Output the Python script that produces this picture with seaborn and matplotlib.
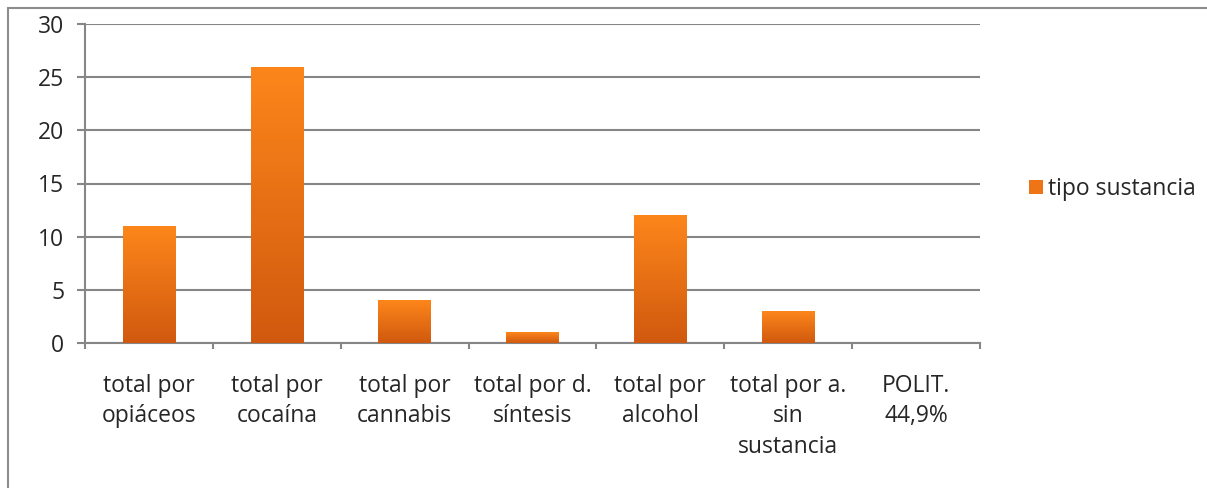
import matplotlib.pyplot as plt
import seaborn as sns
import numpy as np
import pandas as pd
from matplotlib.colors import LinearSegmentedColormap
from matplotlib.patches import Patch, Rectangle

categories = [
    'total por\nopiáceos',
    'total por\ncocaína',
    'total por\ncannabis',
    'total por d.\nsíntesis',
    'total por\nalcohol',
    'total por a.\nsin\nsustancia',
    'POLIT.\n44,9%',
]
values = [11, 26, 4, 1, 12, 3, 0]
series_name = 'tipo sustancia'
y_ticks = [0, 5, 10, 15, 20, 25, 30]

sns.set_style('white')
plt.rcParams['font.family'] = ['Open Sans', 'DejaVu Sans']

top_color = '#FD861B'
bottom_color = '#D0590F'
grid_color = '#868686'
fsize = 16.5

df = pd.DataFrame({'cat': categories, 'val': values})

fig = plt.figure(figsize=(12.07, 4.88), dpi=100)
ax = fig.add_axes([85 / 1207, 1 - 343 / 488, 895 / 1207, 319 / 488])

sns.barplot(data=df, x='cat', y='val', color=top_color, width=0.41,
            saturation=1, ax=ax, zorder=3)

# vertical gradient on each bar, Excel-style
cmap = LinearSegmentedColormap.from_list('bar', [bottom_color, top_color])
grad = np.linspace(0, 1, 256).reshape(-1, 1)
for p in ax.patches:
    x0, y0 = p.get_x(), p.get_y()
    w, h = p.get_width(), p.get_height()
    p.set_facecolor('none')
    p.set_edgecolor('none')
    if h <= 0:
        continue
    im = ax.imshow(grad, cmap=cmap, origin='lower', aspect='auto',
                   extent=(x0, x0 + w, y0, y0 + h), zorder=3)
    im.set_clip_path(p)

ax.set_xlim(-0.5, len(categories) - 0.5)
ax.set_ylim(0, 30)
ax.set_yticks(y_ticks)
ax.set_xlabel('')
ax.set_ylabel('')

ax.yaxis.grid(True, color=grid_color, linewidth=1.5, zorder=0)
ax.set_axisbelow(True)

for side in ['top', 'right']:
    ax.spines[side].set_visible(False)
for side in ['left', 'bottom']:
    ax.spines[side].set_color(grid_color)
    ax.spines[side].set_linewidth(1.5)

ax.tick_params(axis='y', which='major', direction='out', length=5.8, width=1.5,
               color=grid_color, pad=9, labelsize=fsize, left=True)
ax.set_xticks(np.arange(-0.5, len(categories)), minor=True)
ax.tick_params(axis='x', which='minor', direction='out', length=4.5, width=1.5,
               color=grid_color, bottom=True)
ax.tick_params(axis='x', which='major', length=0, pad=22, labelsize=fsize)
for lbl in ax.get_xticklabels():
    lbl.set_linespacing(1.38)
    lbl.set_verticalalignment('top')

handle = Patch(facecolor='#EF7416', edgecolor='none', label=series_name)
fig.legend(handles=[handle], loc='center left',
           bbox_to_anchor=(1020 / 1207, 1 - 189 / 488), frameon=False,
           fontsize=fsize, handlelength=0.6, handleheight=0.6,
           handletextpad=0.2, borderaxespad=0)

# outer chart frame
fig.patches.append(Rectangle((8 / 1207, -0.1), 1.2, 1 - 8 / 488 + 0.1,
                             transform=fig.transFigure, fill=False,
                             edgecolor='#8C8C8C', linewidth=1.5))

fig.savefig('out.png', dpi=100)
plt.close(fig)
